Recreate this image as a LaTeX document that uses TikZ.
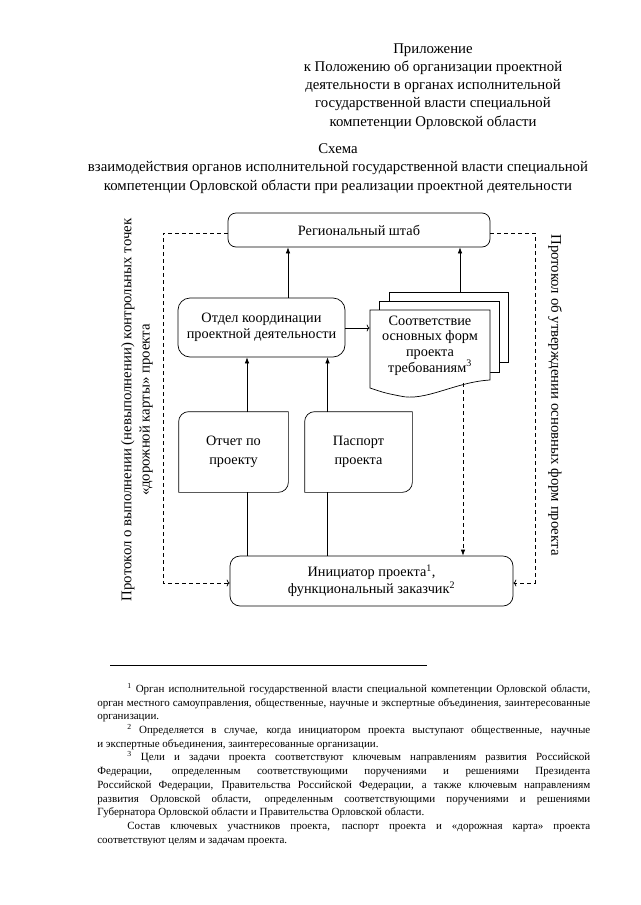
\documentclass[tikz,border=0pt]{standalone}
\usepackage{fontspec}
\setmainfont{Liberation Serif}
\usetikzlibrary{arrows.meta,calc}
\newcommand{\headfont}{\fontsize{14.8}{18.2}\selectfont}
\newcommand{\boxfont}{\fontsize{14.3}{15.6}\selectfont}
\newcommand{\cardfont}{\fontsize{14.3}{19}\selectfont}
\newcommand{\notefont}{\fontsize{11}{13.7}\selectfont}
\tikzset{
	box/.style={draw, rounded corners=8pt, align=center, inner sep=0pt, font=\boxfont},
	plain/.style={inner sep=0pt, align=center, font=\boxfont},
	link/.style={-{Latex[length=6pt,width=4.5pt]}},
	openlink/.style={-{To[length=3pt,width=7pt]}},
	dashlink/.style={dash pattern=on 4pt off 3pt},
}
\begin{document}
\begin{tikzpicture}[x=1pt,y=-1pt,line width=0.7pt]
\useasboundingbox (0,0) rectangle (640,905);

% heading
\node[align=center,font=\headfont] (annex) at (433,86.5) {Приложение\\к Положению об организации проектной\\деятельности в органах исполнительной\\государственной власти специальной\\компетенции Орловской области};
\node[align=center,font=\headfont] (title) at (338,168.5) {Схема\\взаимодействия органов исполнительной государственной власти специальной\\компетенции Орловской области при реализации проектной деятельности};

% boxes
\node[box, minimum width=262, minimum height=34] (hq) at (359,230) {Региональный штаб};
\node[box, rounded corners=12pt, minimum width=167, minimum height=59] (dept) at (261.5,327.5) {Отдел координации\\проектной деятельности};
\node[box, rounded corners=10pt, minimum width=283, minimum height=50, font=\fontsize{14.3}{17}\selectfont] (init) at (371.5,581) {Инициатор проекта\textsuperscript{1},\\функциональный заказчик\textsuperscript{2}};

\node[plain, font=\cardfont, minimum width=109, minimum height=80] (report) at (233.5,452) {Отчет по\\проекту};
\node[plain, font=\cardfont, minimum width=107, minimum height=80] (passport) at (358.5,452) {Паспорт\\проекта};
\foreach \card in {report,passport}
	\draw (\card.south west) -- ([yshift=-10pt]\card.north west) arc (180:90:10pt) -- (\card.north east) -- ([yshift=10pt]\card.south east) arc (0:-90:10pt) -- cycle;

% stack of documents
\draw[fill=white] (389,292) rectangle (508,362);
\draw[fill=white] (379,301) rectangle (499,372);
\draw[fill=white] (370,310) -- (490,310) -- (490,380) .. controls (455,382) and (425,402) .. (400,396) .. controls (385,393) .. (370,388) -- cycle;
\node[plain, minimum width=120, minimum height=70] (docs) at (430,345.5) {Соответствие\\основных форм\\проекта\\требованиям\textsuperscript{3}};
\coordinate (stacktop) at (460,292);
\coordinate (stackfoot) at (463,383);

% connectors
\draw[link] ([xshift=26.5pt]dept.north) -- ([xshift=26.5pt]dept.north |- hq.south);
\draw[link] (stacktop) -- (stacktop |- hq.south);
\draw[openlink] ([yshift=-0.5pt]dept.east) -- ([yshift=-0.5pt]dept.east -| docs.west);
\draw[link] ([xshift=13.5pt]report.north) -- ([xshift=13.5pt]report.north |- dept.south);
\draw ([xshift=13.5pt]report.south) -- ([xshift=13.5pt]report.south |- init.north);
\draw[link] ([xshift=-31pt]passport.north) -- ([xshift=-31pt]passport.north |- dept.south);
\draw ([xshift=-31pt]passport.south) -- ([xshift=-31pt]passport.south |- init.north);
\draw[dashlink,link] (stackfoot) -- (stackfoot |- init.north);

\coordinate (ltop) at (163,233);
\coordinate (rtop) at (535,233);
\draw[dashlink,openlink] (hq.west |- ltop) -- (ltop) |- ([yshift=-2pt]init.west);
\draw[dashlink,openlink] (hq.east |- rtop) -- (rtop) |- ([yshift=-2pt]init.east);

% side labels
\node[rotate=90, align=center, font=\headfont] (leftnote) at (137,410) {Протокол о выполнении (невыполнении) контрольных точек\\«дорожной карты» проекта};
\node[rotate=-90, font=\headfont] (rightnote) at (555,395) {Протокол об утверждении основных форм проекта};

% footnotes
\draw[line width=0.6pt] (110,665) -- (427,665);
\node[anchor=north west, text width=493pt, align=justify, inner sep=0pt, font=\notefont] (notes) at (97,683) {%
\hspace*{30pt}\textsuperscript{1} Орган исполнительной государственной власти специальной компетенции Орловской области,\linebreak орган местного самоуправления, общественные, научные и экспертные объединения, заинтересованные\linebreak организации.\par
\hspace*{30pt}\textsuperscript{2} Определяется в случае, когда инициатором проекта выступают общественные, научные\linebreak и экспертные объединения, заинтересованные организации.\par
\hspace*{30pt}\textsuperscript{3} Цели и задачи проекта соответствуют ключевым направлениям развития Российской\linebreak Федерации, определенным соответствующими поручениями и решениями Президента\linebreak Российской Федерации, Правительства Российской Федерации, а также ключевым направлениям\linebreak развития Орловской области, определенным соответствующими поручениями и решениями\linebreak Губернатора Орловской области и Правительства Орловской области.\par
\hspace*{30pt}Состав ключевых участников проекта, паспорт проекта и «дорожная карта» проекта\linebreak соответствуют целям и задачам проекта.};
\end{tikzpicture}
\end{document}
